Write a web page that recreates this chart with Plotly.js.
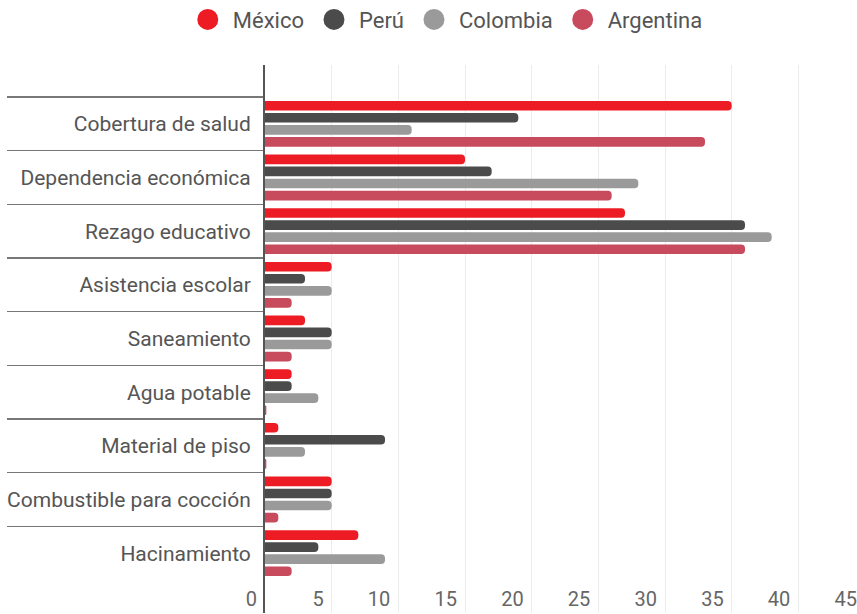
<!DOCTYPE html>
<html>
<head>
<meta charset="utf-8">
<script src="https://cdn.plot.ly/plotly-3.0.1.min.js"></script>
<style>
  html, body { margin: 0; padding: 0; overflow: hidden; background: #fff; }
  #chart { width: 880px; height: 614px; }
</style>
</head>
<body>
<div id="chart"></div>
<script>
const categories = [
  "Cobertura de salud",
  "Dependencia económica",
  "Rezago educativo",
  "Asistencia escolar",
  "Saneamiento",
  "Agua potable",
  "Material de piso",
  "Combustible para cocción",
  "Hacinamiento"
];
const seriesNames = ["México", "Perú", "Colombia", "Argentina"];
const mexico    = [35, 15, 27, 5, 3, 2, 1, 5, 7];
const peru      = [19, 17, 36, 3, 5, 2, 9, 5, 4];
const colombia  = [11, 28, 38, 5, 5, 4, 3, 5, 9];
const argentina = [33, 26, 36, 2, 2, 0.1, 0.1, 1, 2];
const xTicks = [0, 5, 10, 15, 20, 25, 30, 35, 40, 45];

const colors = ["#ed1c24", "#4b4b4b", "#9a9a9a", "#c84a5d"];
const values = [mexico, peru, colombia, argentina];

const traces = [];
values.forEach((v, i) => {
  traces.push({
    type: "bar",
    orientation: "h",
    name: seriesNames[i],
    x: v,
    y: categories,
    marker: { color: colors[i] },
    showlegend: false,
    hoverinfo: "x+name"
  });
});
// legend entries with round symbols
values.forEach((v, i) => {
  traces.push({
    type: "scatter",
    mode: "markers",
    name: seriesNames[i],
    x: [null],
    y: [null],
    marker: { color: colors[i], size: 16, symbol: "circle", line: { color: colors[i], width: 5 } },
    showlegend: true,
    hoverinfo: "skip"
  });
});

const layout = {
  width: 880,
  height: 614,
  margin: { l: 265, r: 15, t: 65, b: 1 },
  paper_bgcolor: "#ffffff",
  plot_bgcolor: "#ffffff",
  font: { family: "Roboto, 'Open Sans', sans-serif", color: "#555555" },
  barmode: "group",
  bargap: 0.1,
  bargroupgap: 0.2,
  barcornerradius: 4,
  showlegend: true,
  legend: {
    orientation: "h",
    xref: "container",
    yref: "container",
    x: 0.506,
    y: 0.968,
    xanchor: "center",
    yanchor: "middle",
    itemwidth: 40,
    font: { size: 22, color: "#555555" },
    traceorder: "normal"
  },
  xaxis: {
    range: [0, 45],
    tickvals: xTicks,
    ticktext: xTicks.map(String),
    showgrid: true,
    gridcolor: "#ececec",
    gridwidth: 1,
    zeroline: false,
    showline: false,
    ticks: "",
    ticklabelposition: "outside left",
    ticklabelstandoff: -28,
    ticklabelshift: -8,
    tickfont: { size: 20, color: "#666666" },
    fixedrange: true
  },
  yaxis: {
    type: "category",
    categoryorder: "array",
    categoryarray: categories,
    range: [9.115, -1.096],
    autorange: false,
    showgrid: false,
    zeroline: false,
    showline: true,
    linecolor: "#555555",
    linewidth: 2,
    ticks: "outside",
    tickson: "boundaries",
    ticklen: 256,
    tickwidth: 1.5,
    tickcolor: "#777777",
    ticklabelstandoff: 8,
    tickfont: { size: 21, color: "#555555" },
    fixedrange: true
  }
};

Plotly.newPlot("chart", traces, layout, { displayModeBar: false, staticPlot: true });
</script>
</body>
</html>
